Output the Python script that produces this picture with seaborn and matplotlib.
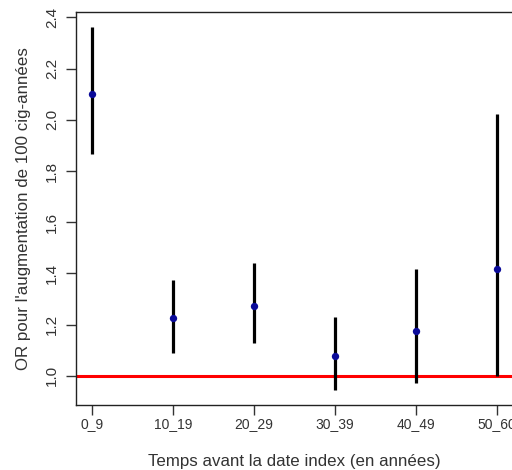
import numpy as np
import pandas as pd
import matplotlib
matplotlib.use("Agg")
import matplotlib.pyplot as plt
import seaborn as sns

# Odds ratios per 100 pack-years, by time window before the index date
periods = ["0_9", "10_19", "20_29", "30_39", "40_49", "50_60"]
odds_ratio = [2.10, 1.225, 1.274, 1.079, 1.175, 1.417]
ci_low = [1.868, 1.088, 1.130, 0.943, 0.973, 1.00]
ci_high = [2.364, 1.374, 1.439, 1.229, 1.417, 2.024]

df = pd.DataFrame({
    "periode": periods,
    "pos": np.arange(1, len(periods) + 1),
    "or": odds_ratio,
    "lo": ci_low,
    "hi": ci_high,
})

sns.set_theme(style="white")
plt.rcParams["font.family"] = ["Liberation Sans", "DejaVu Sans"]
text_col = "#333333"

W, H = 512, 470
fig = plt.figure(figsize=(W / 100, H / 100), dpi=100)
left, right, top, bottom = 75.7, 513.0, 12.0, 405.0
ax = fig.add_axes([left / W, 1 - bottom / H, (right - left) / W, (bottom - top) / H])

# reference line at OR = 1
ax.axhline(1.0, color="red", lw=2.2, zorder=1)

# confidence intervals
ax.vlines(df["pos"], df["lo"], df["hi"], color="black", lw=2.3, zorder=2)

# point estimates
sns.scatterplot(data=df, x="pos", y="or", ax=ax, color="#0a0a99", s=28,
                edgecolor="#0a0a99", linewidth=0, zorder=3, legend=False)

# axis ranges padded like R's default 4 %
ylo, yhi = min(ci_low), max(ci_high)
pad = (yhi - ylo) * 0.04
ax.set_ylim(ylo - pad, yhi + pad)
ax.set_xlim(1 - 0.2, len(periods) + 0.2)

ax.set_xticks(df["pos"])
ax.set_xticklabels(periods)
yt = np.round(np.arange(1.0, 2.41, 0.2), 1)
ax.set_yticks(yt)
ax.set_yticklabels([f"{v:.1f}" for v in yt], rotation=90, va="center")

ax.tick_params(axis="both", which="major", direction="out", length=7, width=1,
               color=text_col, labelcolor=text_col,
               left=True, bottom=True)
ax.tick_params(axis="x", pad=2, labelsize=10)
ax.tick_params(axis="y", pad=5, labelsize=11)

for sp in ax.spines.values():
    sp.set_color("#222222")
    sp.set_linewidth(1.0)

ax.set_xlabel("Temps avant la date index (en années)", fontsize=12.2,
              color=text_col, labelpad=16)
ax.set_ylabel("OR pour l'augmentation de 100 cig-années", fontsize=12.2,
              color=text_col, labelpad=10)

fig.savefig("out.png", dpi=100)
